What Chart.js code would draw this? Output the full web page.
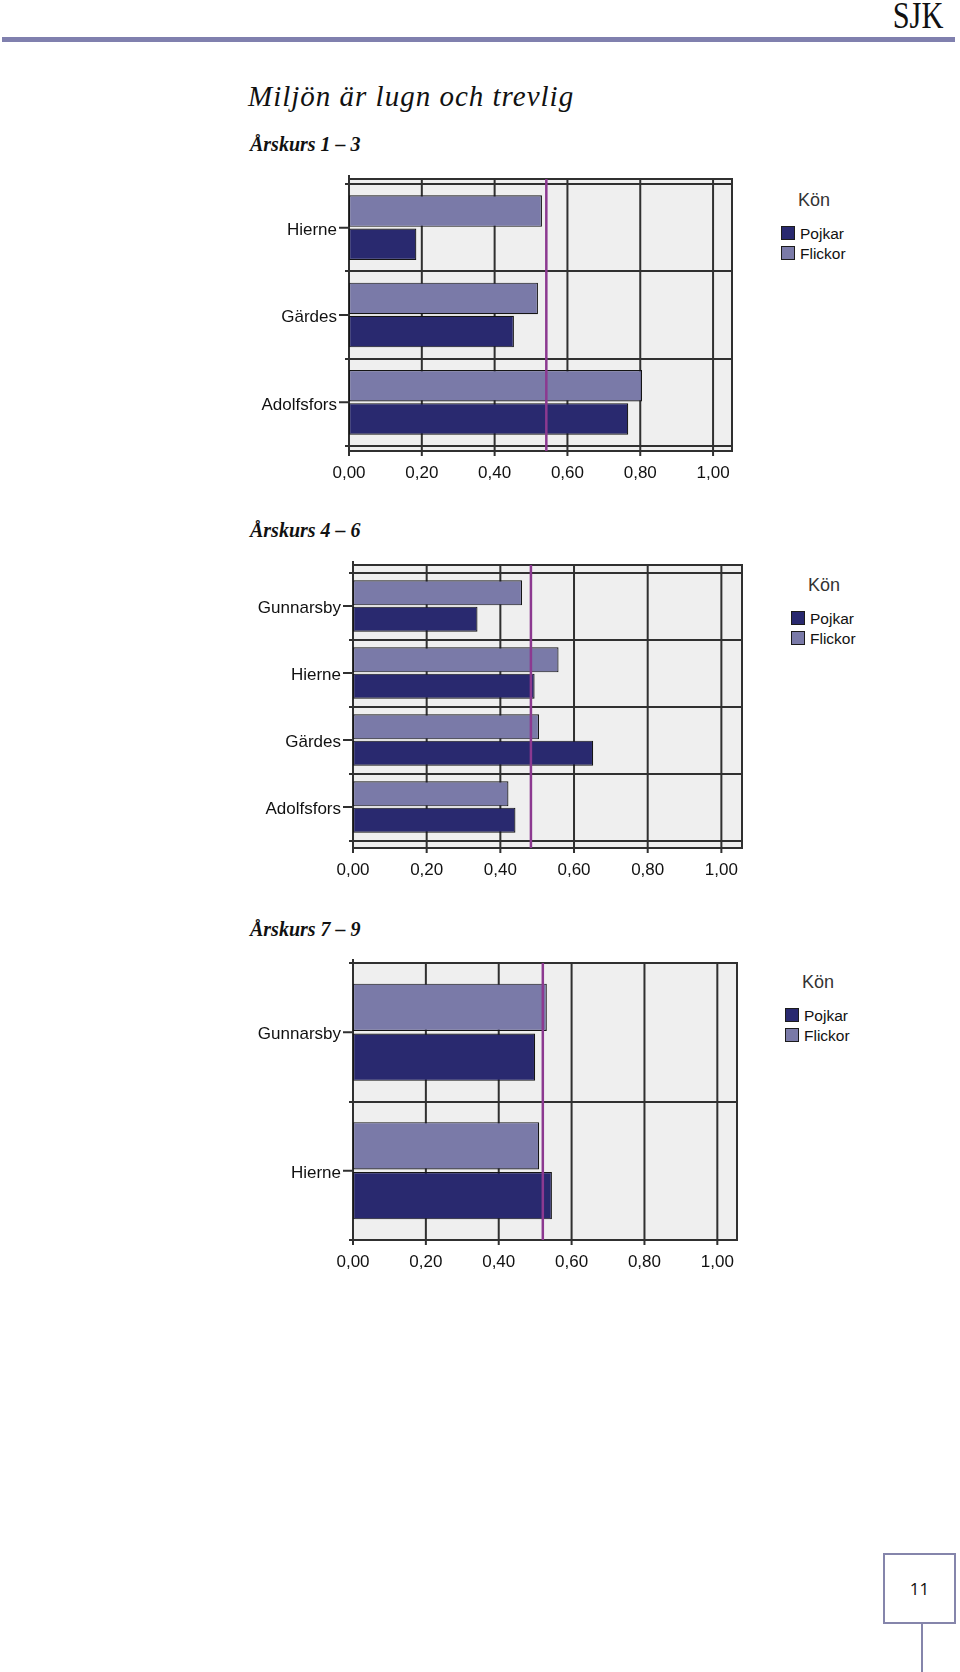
<!DOCTYPE html>
<html lang="sv">
<head>
<meta charset="utf-8">
<title>Miljön är lugn och trevlig</title>
<script src="https://cdn.jsdelivr.net/npm/chart.js@4.4.1/dist/chart.umd.min.js"></script>
<style>
  html, body { margin: 0; padding: 0; background: #fff; }
  body { width: 960px; height: 1672px; position: relative; overflow: hidden; font-family: 'Liberation Sans', Arial, sans-serif; }
  .abs { position: absolute; line-height: 1; white-space: nowrap; color: #111; }
  .sjk { font-family: 'Liberation Serif', serif; font-size: 38px; right: 17px; top: -4px; transform: scaleX(0.8); transform-origin: right top; }
  .rule { left: 2px; top: 37px; width: 953px; height: 5px; background: #8080ae; }
  .title { font-family: 'Liberation Serif', serif; font-style: italic; font-size: 29px; letter-spacing: 1px; left: 248px; top: 82px; }
  .sub { font-family: 'Liberation Serif', serif; font-style: italic; font-weight: bold; font-size: 20px; left: 250px; }
  canvas { position: absolute; left: 230px; }
  .kon { font-size: 18px; color: #333; }
  .swatch { width: 12px; height: 12px; border: 1.5px solid #1c1c1c; }
  .item { font-size: 15.5px; }
  .pagebox { left: 883px; top: 1553px; width: 69px; height: 67px; border: 2px solid #8585ab; }
  .pagenum { width: 69px; top: 25px; text-align: center; font-family: 'Open Sans', sans-serif; font-size: 17px; color: #111; }
  .pageline { left: 921px; top: 1624px; width: 2px; height: 48px; background: #8585ab; }
</style>
</head>
<body>
<div class="abs sjk">SJK</div>
<div class="abs rule"></div>
<div class="abs title">Miljön är lugn och trevlig</div>
<div class="abs sub" style="top:134px">Årskurs 1 – 3</div>
<div class="abs sub" style="top:520px">Årskurs 4 – 6</div>
<div class="abs sub" style="top:919px">Årskurs 7 – 9</div>

<canvas id="chart13" width="530" height="330" style="top:160px"></canvas>
<canvas id="chart46" width="530" height="340" style="top:545px"></canvas>
<canvas id="chart79" width="530" height="345" style="top:940px"></canvas>

<div class="abs pagebox"><div class="abs pagenum">11</div></div>
<div class="abs pageline"></div>

<script>
// Andel som instämmer per skola och kön
const genders = ['Pojkar', 'Flickor'];
const xTicks = [0, 0.2, 0.4, 0.6, 0.8, 1.0];

const schools13 = ['Hierne', 'Gärdes', 'Adolfsfors'];
const pojkar13 = [0.185, 0.453, 0.767];
const flickor13 = [0.530, 0.519, 0.805];
const mean13 = 0.542;

const schools46 = ['Gunnarsby', 'Hierne', 'Gärdes', 'Adolfsfors'];
const pojkar46 = [0.338, 0.493, 0.652, 0.441];
const flickor46 = [0.459, 0.558, 0.505, 0.422];
const mean46 = 0.483;

const schools79 = ['Gunnarsby', 'Hierne'];
const pojkar79 = [0.500, 0.546];
const flickor79 = [0.532, 0.511];
const mean79 = 0.521;

const POJKAR_COLOR = '#29296f';
const FLICKOR_COLOR = '#7a7aa8';
const GRID_COLOR = '#303030';
const MEAN_COLOR = '#8c3990';

Chart.defaults.font.family = "'Liberation Sans', Arial, sans-serif";

// bakgrund, ram, vertikala stödlinjer och medelvärdeslinje
const framePlugin = {
    id: 'frame',
    beforeDraw(chart, args, opts) {
        const { ctx, chartArea: a } = chart;
        ctx.save();
        ctx.fillStyle = '#efefef';
        ctx.fillRect(a.left, a.top - opts.pad, a.right - a.left, a.bottom - a.top + 2 * opts.pad);
        ctx.restore();
    },
    beforeDatasetsDraw(chart, args, opts) {
        const { ctx, chartArea: a, scales: { x, y } } = chart;
        const top = a.top - opts.pad;
        const bottom = a.bottom + opts.pad;
        ctx.save();
        ctx.strokeStyle = GRID_COLOR;
        ctx.lineWidth = 2;
        ctx.beginPath();
        x.ticks.forEach(t => {
            const px = x.getPixelForValue(t.value);
            ctx.moveTo(px, top);
            ctx.lineTo(px, bottom + 5);
        });
        y.ticks.forEach((t, i) => {
            const py = y.getPixelForValue(i);
            ctx.moveTo(a.left - 10, py);
            ctx.lineTo(a.left, py);
        });
        ctx.moveTo(a.left, top - 4);
        ctx.lineTo(a.left, bottom + 5);
        ctx.stroke();
        ctx.strokeRect(a.left, top, a.right - a.left, bottom - top);
        ctx.restore();
    },
    afterDatasetsDraw(chart, args, opts) {
        const { ctx, chartArea: a, scales: { x } } = chart;
        const px = x.getPixelForValue(opts.mean);
        ctx.save();
        ctx.strokeStyle = MEAN_COLOR;
        ctx.lineWidth = 2.5;
        ctx.beginPath();
        ctx.moveTo(px, a.top - opts.pad);
        ctx.lineTo(px, a.bottom + opts.pad);
        ctx.stroke();
        ctx.restore();
    }
};

function addLegend(left, top) {
    const colors = [POJKAR_COLOR, FLICKOR_COLOR];
    const kon = document.createElement('div');
    kon.className = 'abs kon';
    kon.textContent = 'Kön';
    kon.style.left = (left + 17) + 'px';
    kon.style.top = (top - 35) + 'px';
    document.body.appendChild(kon);
    genders.forEach((g, i) => {
        const sw = document.createElement('div');
        sw.className = 'abs swatch';
        sw.style.left = left + 'px';
        sw.style.top = (top + i * 20) + 'px';
        sw.style.background = colors[i];
        document.body.appendChild(sw);
        const txt = document.createElement('div');
        txt.className = 'abs item';
        txt.textContent = g;
        txt.style.left = (left + 19) + 'px';
        txt.style.top = (top + i * 20) + 'px';
        document.body.appendChild(txt);
    });
}

function drawChart(id, schools, pojkar, flickor, mean, box) {
    const canvas = document.getElementById(id);
    const canvasTop = parseFloat(canvas.style.top);
    const barStyle = { borderColor: '#151515', borderWidth: 1.2, borderSkipped: false };
    new Chart(canvas, {
        type: 'bar',
        data: {
            labels: schools,
            datasets: [
                { label: genders[1], data: flickor, backgroundColor: FLICKOR_COLOR, ...barStyle },
                { label: genders[0], data: pojkar, backgroundColor: POJKAR_COLOR, ...barStyle }
            ]
        },
        options: {
            indexAxis: 'y',
            responsive: false,
            animation: false,
            devicePixelRatio: 1,
            layout: { padding: { top: box.top - canvasTop, right: 760 - box.right, left: 0, bottom: 0 } },
            datasets: { bar: { categoryPercentage: box.cat, barPercentage: 0.95 } },
            scales: {
                x: {
                    type: 'linear',
                    min: 0,
                    max: box.xMax,
                    grid: { display: false, drawTicks: false },
                    border: { display: false },
                    afterBuildTicks: s => { s.ticks = xTicks.map(v => ({ value: v })); },
                    afterFit: s => { s.height = canvasTop + canvas.height - box.bottom; },
                    ticks: {
                        padding: box.pad + 12,
                        color: '#111',
                        font: { size: 17 },
                        maxRotation: 0,
                        autoSkip: false,
                        callback: v => v.toFixed(2).replace('.', ',')
                    }
                },
                y: {
                    type: 'category',
                    offset: true,
                    grid: { offset: true, color: GRID_COLOR, lineWidth: 2, tickLength: 4 },
                    border: { display: false },
                    afterFit: s => { s.width = box.left - 230; },
                    ticks: { padding: 8, labelOffset: 2.5, color: '#111', font: { size: 17 }, autoSkip: false }
                }
            },
            plugins: {
                legend: { display: false },
                tooltip: { enabled: false },
                frame: { pad: box.pad, mean: mean }
            }
        },
        plugins: [framePlugin]
    });
}

drawChart('chart13', schools13, pojkar13, flickor13, mean13,
    { left: 349, right: 732, top: 184, bottom: 446, pad: 5, xMax: 1.052, cat: 0.76 });
drawChart('chart46', schools46, pojkar46, flickor46, mean46,
    { left: 353, right: 742, top: 572.5, bottom: 840.5, pad: 7.5, xMax: 1.056, cat: 0.785 });
drawChart('chart79', schools79, pojkar79, flickor79, mean79,
    { left: 353, right: 737, top: 963, bottom: 1240, pad: 0, xMax: 1.054, cat: 0.72 });

addLegend(781, 226);
addLegend(791, 611);
addLegend(785, 1008);
</script>
</body>
</html>
